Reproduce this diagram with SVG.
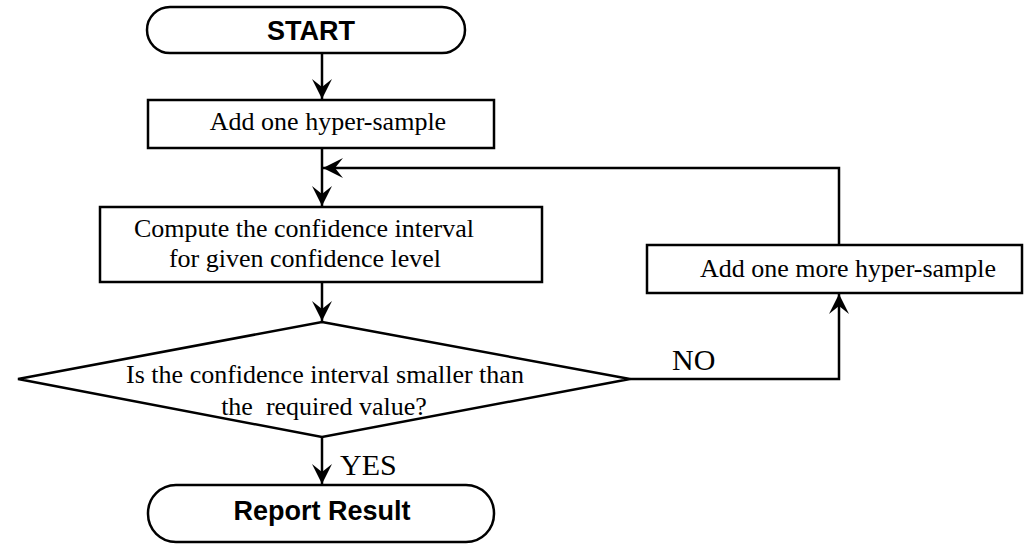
<svg xmlns="http://www.w3.org/2000/svg" width="1024" height="545" viewBox="0 0 1024 545">
<style>
.shape{fill:#fff;stroke:#000;stroke-width:2.5}
.conn{fill:none;stroke:#000;stroke-width:2.5}
.tx{font-family:"Liberation Serif","Times New Roman",serif;font-size:26px;fill:#000}
.lbl{font-family:"Liberation Serif","Times New Roman",serif;font-size:30px;fill:#000}
.bold{font-family:"Liberation Sans",Arial,sans-serif;font-weight:bold;font-size:27px;fill:#000}
</style>
<defs>
<marker id="arr" markerUnits="userSpaceOnUse" markerWidth="24" markerHeight="24" viewBox="-22 -12 24 24" refX="0" refY="0" orient="auto">
<path d="M0,0 L-20,-10 L-12,0 L-20,10 Z" fill="#000"/>
</marker>
</defs>
<rect width="1024" height="545" fill="#fff"/>
<g id="connectors">
<line class="conn" x1="322" y1="53" x2="322" y2="99" marker-end="url(#arr)"/>
<line class="conn" x1="322" y1="148" x2="322" y2="206" marker-end="url(#arr)"/>
<line class="conn" x1="322" y1="282" x2="322" y2="321" marker-end="url(#arr)"/>
<line class="conn" x1="322" y1="437" x2="322" y2="484" marker-end="url(#arr)"/>
<polyline class="conn" points="630,379 839,379 839,294" marker-end="url(#arr)"/>
<polyline class="conn" points="839,245 839,168 323,168" marker-end="url(#arr)"/>
</g>
<g id="start">
<rect class="shape" x="147" y="7" width="318" height="46" rx="23" ry="23"/>
<text class="bold" x="311" y="40" text-anchor="middle">START</text>
</g>
<g id="add-one">
<rect class="shape" x="148" y="100" width="346" height="48"/>
<text class="tx" x="328" y="130" text-anchor="middle">Add one hyper-sample</text>
</g>
<g id="compute">
<rect class="shape" x="100" y="207" width="442" height="75"/>
<text class="tx" x="304" y="237" text-anchor="middle">Compute the confidence interval</text>
<text class="tx" x="305" y="267" text-anchor="middle">for given confidence level</text>
</g>
<g id="decision">
<polygon class="shape" points="322,322 630,379 322,437 18,379"/>
<text class="tx" x="325" y="383" text-anchor="middle">Is the confidence interval smaller than</text>
<text class="tx" x="324" y="415" text-anchor="middle" xml:space="preserve">the  required value?</text>
</g>
<g id="add-more">
<rect class="shape" x="647" y="245" width="375" height="48"/>
<text class="tx" x="848" y="277" text-anchor="middle">Add one more hyper-sample</text>
</g>
<g id="report">
<rect class="shape" x="148" y="485" width="346" height="57" rx="28" ry="28"/>
<text class="bold" x="322" y="520" text-anchor="middle">Report Result</text>
</g>
<g id="labels">
<text class="lbl" x="672" y="370">NO</text>
<text class="lbl" x="340" y="475">YES</text>
</g>
</svg>
